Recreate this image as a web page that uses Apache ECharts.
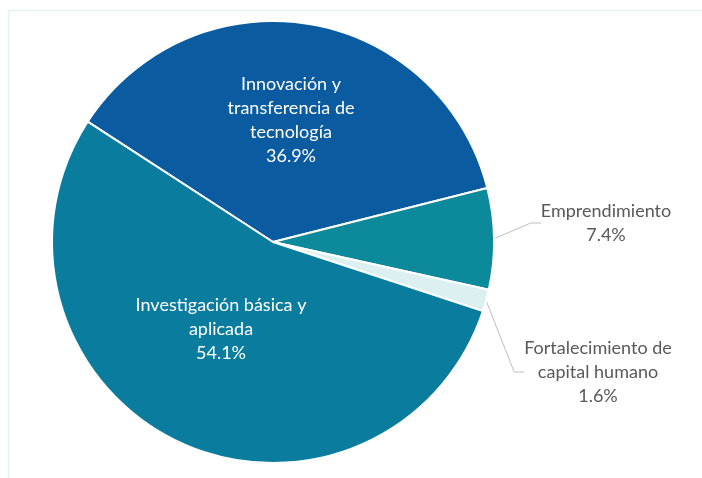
<!DOCTYPE html>
<html>
<head>
<meta charset="utf-8">
<script src="https://cdn.jsdelivr.net/npm/echarts@6/dist/echarts.min.js"></script>
<style>html,body{margin:0;padding:0;background:#fff}#c{width:702px;height:478px}</style>
</head>
<body>
<div id="c"></div>
<script>
const categories = ['Innovación y\ntransferencia de\ntecnología', 'Emprendimiento', 'Fortalecimiento de\ncapital humano', 'Investigación básica y\naplicada'];
const values = [36.9, 7.4, 1.6, 54.1];
const colors = ['#0a5b9f', '#0c8a9b', '#ddf0f1', '#0a7c9e'];
const insideIdx = [0, 3];

const chart = echarts.init(document.getElementById('c'));
const font = 'Lato, "Open Sans", sans-serif';
chart.setOption({
  animation: false,
  graphic: [{
    type: 'rect', shape: { x: 8.5, y: 10.5, width: 760, height: 520 },
    style: { fill: 'none', stroke: '#e2f1f6', lineWidth: 1.5 }, silent: true
  }],
  series: [{
    type: 'pie',
    center: [273, 242],
    radius: 221,
    startAngle: 147,
    clockwise: true,
    itemStyle: { borderColor: '#fff', borderWidth: 2 },
    label: {
      fontFamily: font, fontSize: 18, lineHeight: 24,
      formatter: p => p.name + '\n' + p.value.toFixed(1) + '%'
    },
    labelLine: { lineStyle: { color: '#bfbfbf', width: 1 } },
    labelLayout: function (p) {
      if (p.dataIndex === 1) return { x: 606, y: 223, align: 'center', verticalAlign: 'middle' };
      if (p.dataIndex === 2) return { x: 598, y: 372, align: 'center', verticalAlign: 'middle' };
      if (p.dataIndex === 0) return { x: 291, y: 120, align: 'center', verticalAlign: 'middle' };
      if (p.dataIndex === 3) return { x: 221, y: 329, align: 'center', verticalAlign: 'middle' };
    },
    data: categories.map((n, i) => {
      const inside = insideIdx.includes(i);
      return {
        name: n, value: values[i],
        itemStyle: { color: colors[i] },
        label: inside
          ? { position: 'inside', color: '#ffffff' }
          : { position: 'outside', color: '#595959' },
        labelLine: { show: !inside, length: 25, length2: 10 }
      };
    })
  }]
});
</script>
</body>
</html>
